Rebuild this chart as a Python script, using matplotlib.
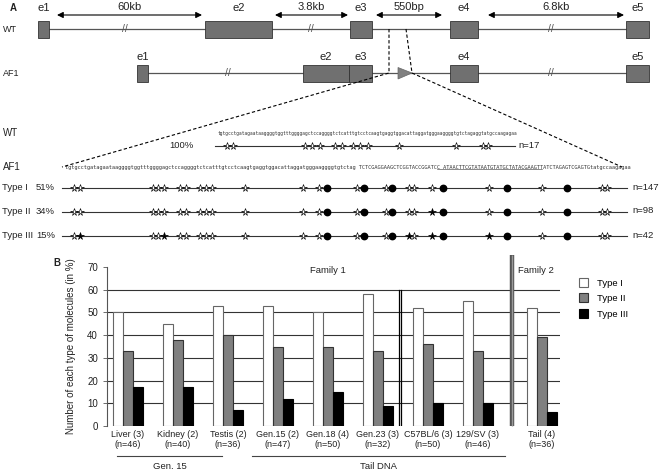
import matplotlib
matplotlib.use("Agg")
import matplotlib.pyplot as plt
from matplotlib.patches import Rectangle, Polygon, Patch
import numpy as np

plt.rcParams["font.family"] = ["Liberation Sans", "DejaVu Sans"]

# ---- panel A: gene map (diagram units = pixels of the figure)
exon_names = ["e1", "e2", "e3", "e4", "e5"]
wt_exons = [(38, 49), (205, 272), (350, 372), (450, 478), (626, 649)]
af1_exons = [(137, 148), (303, 349), (349, 372), (450, 478), (626, 649)]
intron_sizes = ["60kb", "3.8kb", "550bp", "6.8kb"]
intron_spans = [(57, 202), (275, 348), (376, 442), (488, 624)]
wt_breaks = [125, 311, 551]
af1_breaks = [228, 551]
lox_site = (398, 412)

wt_seq = ("tgtgcctgatagaataaggggtggtttggggagctccaggggtctcatttgtcctcaagtgagg"
          "tggacattaggatgggaaggggtgtctagaggtatgccaagagaa")
af1_seq = [
    ("tgtgcctgatagaataaggggtggtttggggagctccaggggtctcatttgtcctcaagtgagg"
     "tggacattaggatgggaaggggtgtctag TCTCGAGGAAGCTCGGTACCGGATCC ", False),
    ("ATAACTTCGTATAATGTATGCTATACGAAGTTAT", True),
    ("CTAGAGTCGAGTGtatgccaagagaa", False),
]

# methylation sites along the sequence
wt_sites = [227, 233, 305, 312, 320, 335, 342, 353, 360, 368, 399, 456, 483, 488]
af1_sites = [74, 80, 153, 158, 164, 180, 186, 200, 206, 212, 245, 303, 319, 327,
             357, 364, 386, 392, 409, 414, 432, 443, 489, 507, 542, 567, 602, 607]
# o = open star, f = filled star, c = dot
row_names = ["Type I", "Type II", "Type III"]
row_pct = ["51%", "34%", "15%"]
row_n = [147, 98, 42]
row_states = [
    "ooooooooooooocococooocococoo",
    "ooooooooooooocococoofcococoo",
    "ofoofoooooooocococfofcfcocoo",
]
wt_pct = "100%"
wt_n = 17

# ---- panel B: bar chart
categories = ["Liver (3)", "Kidney (2)", "Testis (2)", "Gen.15 (2)", "Gen.18 (4)",
              "Gen.23 (3)", "C57BL/6 (3)", "129/SV (3)", "Tail (4)"]
n_mol = [46, 40, 36, 47, 50, 32, 50, 46, 36]
type_i = [50, 45, 53, 53, 50, 58, 52, 55, 52]
type_ii = [33, 38, 40, 35, 35, 33, 36, 33, 39]
type_iii = [17, 17, 7, 12, 15, 9, 10, 10, 6]

txt = "#222222"
fs = 6.8
fig = plt.figure(figsize=(6.62, 4.72), dpi=100)
ax0 = fig.add_axes([0, 0, 1, 1])
ax0.set_xlim(0, 662)
ax0.set_ylim(472, 0)
ax0.axis("off")

ax0.text(13, 8, "A", fontsize=7, fontweight="bold", ha="center", va="center", color=txt)
ax0.text(57, 263, "B", fontsize=7, fontweight="bold", ha="center", va="center", color=txt)


def gene_row(exons, y, labels_y, breaks):
    ax0.plot([exons[0][1], exons[-1][0]], [y, y], color="#555555", lw=0.9, zorder=1)
    for (a, b), name in zip(exons, exon_names):
        ax0.add_patch(Rectangle((a, y - 8.5), b - a, 17, facecolor="#707070",
                                edgecolor="#333333", lw=0.6, zorder=2))
        ax0.text((a + b) / 2, labels_y, name, fontsize=8, ha="center", va="center", color=txt)
    for bx in breaks:
        ax0.text(bx, y, "//", fontsize=7.5, ha="center", va="center", color="#555555")


gene_row(wt_exons, 29, 8, wt_breaks)
gene_row(af1_exons, 73, 57, af1_breaks)
ax0.text(3, 29, "WT", fontsize=6.5, va="center", color=txt)
ax0.text(3, 73, "AF1", fontsize=6.5, va="center", color=txt)

for (a, b), lab in zip(intron_spans, intron_sizes):
    ax0.annotate("", xy=(b, 15), xytext=(a, 15),
                 arrowprops=dict(arrowstyle="<|-|>", color="k", lw=0.8,
                                 mutation_scale=9, shrinkA=0, shrinkB=0))
    ax0.text((a + b) / 2, 7, lab, fontsize=8, ha="center", va="center", color=txt)

ax0.add_patch(Polygon([(lox_site[0], 67.5), (lox_site[0], 79), (lox_site[1], 73)],
                      closed=True, facecolor="#808080", edgecolor="#666666", lw=0.5, zorder=3))

# zoom lines
dash = dict(color="k", lw=0.8, ls=(0, (3, 2)), zorder=4)
ax0.plot([389, 389, 62], [29, 73, 167], **dash)
ax0.plot([406, 412, 622], [29, 73, 167], **dash)


def seq_text(x0, x1, y, parts):
    full = "".join(p for p, _ in parts)
    t = ax0.text(x0, y, full, family="DejaVu Sans Mono", fontsize=4,
                 ha="left", va="center", color="#333333")
    fig.canvas.draw()
    w = t.get_window_extent().width
    t.set_fontsize(4 * (x1 - x0) / w)
    cw = (x1 - x0) / len(full)
    i = 0
    for p, ul in parts:
        if ul:
            ax0.plot([x0 + i * cw, x0 + (i + len(p)) * cw], [y + 2.2, y + 2.2],
                     color="#333333", lw=0.4)
        i += len(p)


seq_text(218, 515, 133, [(wt_seq, False)])
seq_text(65, 622, 167, af1_seq)
ax0.text(3, 133, "WT", fontsize=7, va="center", color=txt)
ax0.text(3, 167, "AF1", fontsize=7, va="center", color=txt)


def site_marks(xs, states, y):
    for x, s in zip(xs, states):
        if s == "c":
            ax0.plot(x, y, "o", ms=4.6, color="k", zorder=5)
        else:
            ax0.plot(x, y, "*", ms=5.3, mec="k", mew=0.45,
                     mfc="k" if s == "f" else "white", zorder=5)


ax0.plot([215, 515], [146, 146], color="#333333", lw=0.8)
site_marks(wt_sites, "o" * len(wt_sites), 146)
ax0.text(194, 146, wt_pct, fontsize=fs, ha="right", va="center", color=txt)
ax0.text(518, 146, "n=%d" % wt_n, fontsize=fs, va="center", color=txt)

for k, (name, pct, n, states) in enumerate(zip(row_names, row_pct, row_n, row_states)):
    y = [188, 211.5, 236][k]
    ax0.plot([62, 627], [y, y], color="#333333", lw=0.8)
    site_marks(af1_sites, states, y)
    ax0.text(2, y, name, fontsize=fs, va="center", color=txt)
    ax0.text(36, y, pct, fontsize=fs, va="center", color=txt)
    ax0.text(632, y - 1, "n=%d" % n, fontsize=fs, va="center", color=txt)

# ---- panel B
ax = fig.add_axes([107 / 662, 46 / 472, 453 / 662, 159 / 472])
ax.patch.set_alpha(0)
x = np.r_[np.arange(8), 8.28]
w = 0.2
ax.bar(x - w, type_i, w, color="white", edgecolor="#666666", lw=0.8, zorder=3)
ax.bar(x, type_ii, w, color="#808080", edgecolor="#333333", lw=0.8, zorder=3)
ax.bar(x + w, type_iii, w, color="black", edgecolor="black", lw=0.8, zorder=3)
ax.set_xlim(-0.42, 8.64)
ax.set_ylim(0, 70)
for v in range(10, 70, 10):
    ax.axhline(v, color="#333333", lw=0.8, zorder=1)
ax.set_yticks(range(0, 80, 10))
ax.tick_params(axis="y", labelsize=7, labelcolor=txt, length=3, width=0.6, color="#555555")
ax.set_xticks(x)
ax.set_xticklabels(["%s\n(n=%d)" % (c, n) for c, n in zip(categories, n_mol)],
                   fontsize=6.5, color=txt, linespacing=1.1)
ax.tick_params(axis="x", length=0, pad=3)
for s in ["top", "right", "bottom"]:
    ax.spines[s].set_visible(False)
ax.spines["left"].set_color("#555555")
ax.spines["left"].set_linewidth(0.8)
ax.set_ylabel("Number of each type of molecules (in %)", fontsize=7, color=txt, labelpad=8)

# family separators
for dx in (-0.022, 0.022):
    ax.plot([5.44 + dx] * 2, [0, 60], color="k", lw=0.9, zorder=4)
ax.plot([7.68, 7.68], [0, 75.5], color="#555555", lw=3.2, zorder=4, clip_on=False,
        solid_capstyle="butt")
ax.plot([7.68, 7.68], [0, 75.5], color="#9a9a9a", lw=1.0, zorder=4, clip_on=False,
        solid_capstyle="butt")
ax.text(4.0, 68.5, "Family 1", fontsize=fs, ha="center", va="center", color=txt)
ax.text(7.8, 68.5, "Family 2", fontsize=fs, ha="left", va="center", color=txt)

# sample groups below the axis
for a, b, lab in [(-0.22, 1.88, "Gen. 15"), (2.48, 7.54, "Tail DNA")]:
    ax.plot([a, b], [-13.3, -13.3], color="#444444", lw=0.8, clip_on=False)
    ax.text((a + b) / 2, -17.9, lab, fontsize=fs, ha="center", va="center",
            color=txt, clip_on=False)

handles = [Patch(facecolor="white", edgecolor="#666666", lw=0.8),
           Patch(facecolor="#808080", edgecolor="#333333", lw=0.8),
           Patch(facecolor="black", edgecolor="black", lw=0.8)]
fig.legend(handles, row_names, loc="upper left", bbox_to_anchor=(579 / 662, 1 - 278 / 472),
           frameon=False, fontsize=fs, handlelength=0.9, handleheight=1.1,
           labelspacing=0.6, handletextpad=1.0, borderaxespad=0, borderpad=0)

fig.savefig("out.png", dpi=100)
